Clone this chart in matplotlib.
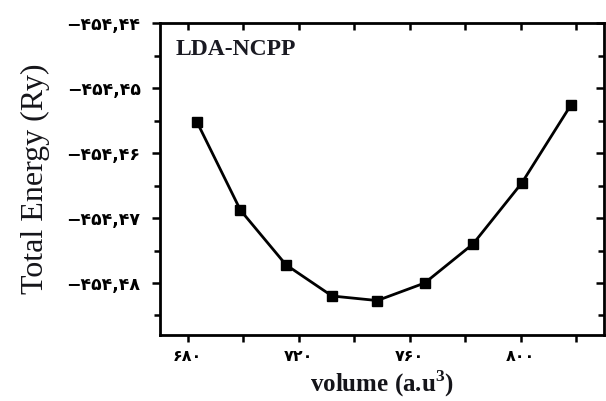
import matplotlib
matplotlib.use("Agg")
import matplotlib.pyplot as plt
from matplotlib.ticker import MultipleLocator, FixedLocator

volume = [683.3, 699.0, 715.4, 732.0, 748.3, 765.4, 782.8, 800.4, 818.1]
energy = [-454.4552, -454.4688, -454.4772, -454.4820, -454.4827,
          -454.4800, -454.4740, -454.4646, -454.4526]

x_ticks = [680, 720, 760, 800]
x_tick_labels = ["۶۸۰", "۷۲۰", "۷۶۰", "۸۰۰"]
y_ticks = [-454.44, -454.45, -454.46, -454.47, -454.48]
y_tick_labels = ["−۴۵۴,۴۴", "−۴۵۴,۴۵", "−۴۵۴,۴۶", "−۴۵۴,۴۷", "−۴۵۴,۴۸"]

matplotlib.rcParams["mathtext.fontset"] = "custom"
matplotlib.rcParams["mathtext.rm"] = "Liberation Serif:bold"
matplotlib.rcParams["mathtext.bf"] = "Liberation Serif:bold"

fig = plt.figure(figsize=(6.06, 4.01), dpi=100)
ax = fig.add_axes([0.264, 0.1646, 0.7327, 0.778])

ax.plot(volume, energy, color="black", lw=2.0, marker="s", ms=7, mfc="black", mec="black")

ax.set_xlim(670, 830)
ax.set_ylim(-454.488, -454.44)

ax.xaxis.set_major_locator(FixedLocator(x_ticks))
ax.set_xticklabels(x_tick_labels)
ax.xaxis.set_minor_locator(MultipleLocator(20))
ax.yaxis.set_major_locator(FixedLocator(y_ticks))
ax.set_yticklabels(y_tick_labels)
ax.yaxis.set_minor_locator(MultipleLocator(0.005))

for s in ax.spines.values():
    s.set_linewidth(2.0)

ax.tick_params(axis="both", which="both", width=1.8)
ax.tick_params(axis="x", which="major", length=5, pad=5, direction="out", top=True)
ax.tick_params(axis="x", which="minor", length=5, direction="out", top=True)
ax.tick_params(axis="y", which="major", length=6, pad=8, direction="out", right=True)
ax.tick_params(axis="y", which="minor", length=4, direction="out", right=True)
for t in ax.xaxis.get_major_ticks() + ax.xaxis.get_minor_ticks():
    t.tick2line.set_marker(matplotlib.lines.TICKDOWN)
for t in ax.yaxis.get_major_ticks() + ax.yaxis.get_minor_ticks():
    t.tick2line.set_marker(matplotlib.lines.TICKLEFT)

for lab in ax.get_xticklabels():
    lab.set_fontfamily(["DejaVu Sans"])
    lab.set_fontweight("bold")
    lab.set_fontsize(11.5)
for lab in ax.get_yticklabels():
    lab.set_fontfamily(["DejaVu Sans"])
    lab.set_fontweight("bold")
    lab.set_fontsize(12.5)

ax.set_ylabel("Total Energy (Ry)", fontsize=23, family="Liberation Serif",
              labelpad=12, color="#15151a")
ax.set_xlabel("volume (a.u$^{3}$)", fontsize=18, family="Liberation Serif",
              fontweight="bold", labelpad=3, color="#15151a")

ax.text(0.035, 0.915, "LDA-NCPP", transform=ax.transAxes, fontsize=17,
        family="Liberation Serif", fontweight="bold", color="#1a1a22",
        ha="left", va="center")

fig.savefig("out.png", dpi=100)
